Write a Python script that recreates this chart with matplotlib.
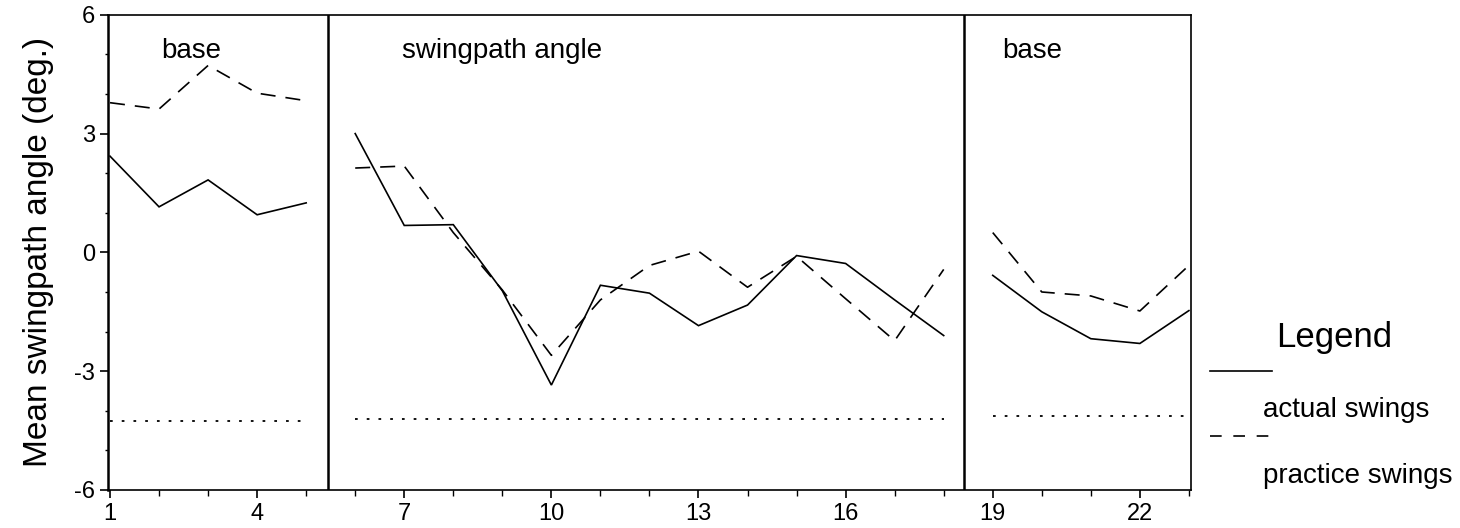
import numpy as np
import matplotlib
matplotlib.use("Agg")
import matplotlib.pyplot as plt
from matplotlib.lines import Line2D

plt.rcParams['font.family'] = ['Liberation Sans', 'DejaVu Sans']
plt.rcParams['axes.unicode_minus'] = False

# trial numbers per phase
base1_x = [1, 2, 3, 4, 5]
swing_x = [6, 7, 8, 9, 10, 11, 12, 13, 14, 15, 16, 17, 18]
base2_x = [19, 20, 21, 22, 23]

# mean swingpath angle (deg.)
actual_base1 = [2.43, 1.15, 1.83, 0.95, 1.25]
practice_base1 = [3.78, 3.62, 4.72, 4.02, 3.83]
actual_swing = [3.0, 0.68, 0.7, -0.97, -3.35, -0.83, -1.03, -1.85, -1.33, -0.08, -0.28, -1.2, -2.1]
practice_swing = [2.13, 2.18, 0.5, -0.95, -2.6, -1.2, -0.33, 0.03, -0.88, -0.1, -1.17, -2.23, -0.43]
actual_base2 = [-0.58, -1.5, -2.18, -2.3, -1.47]
practice_base2 = [0.5, -1.0, -1.1, -1.48, -0.33]

# dotted reference level in each phase
ref_level = [-4.27, -4.21, -4.14]

phase_bounds = [5.45, 18.42]
phase_labels = ["base", "swingpath angle", "base"]
phase_label_x = [2.05, 6.95, 19.2]

xticks = [1, 4, 7, 10, 13, 16, 19, 22]
yticks = [-6, -3, 0, 3, 6]

fig = plt.figure(figsize=(14.6, 5.28), dpi=100)
ax = fig.add_axes([0.074, 0.072, 0.742, 0.9])

phases = [(base1_x, actual_base1, practice_base1),
          (swing_x, actual_swing, practice_swing),
          (base2_x, actual_base2, practice_base2)]
for (xs, act, prac), lvl in zip(phases, ref_level):
    ax.plot(xs, act, color='black', lw=1.2, solid_joinstyle='miter')
    ax.plot(xs, prac, color='black', lw=1.2, linestyle=(0, (9, 6)))
    ax.plot([xs[0], xs[-1]], [lvl, lvl], color='black', lw=1.3, linestyle=(0, (1.5, 5)))

for b in phase_bounds:
    ax.axvline(b, color='black', lw=1.8)

for txt, tx in zip(phase_labels, phase_label_x):
    ax.text(tx, 4.9, txt, fontsize=20, ha='left', va='baseline')

ax.set_xlim(0.96, 23.05)
ax.set_ylim(-6, 6)
ax.set_xticks(xticks)
ax.set_yticks(yticks)
ax.set_xticks(np.arange(1, 24), minor=True)
ax.set_yticks(np.arange(-6, 7), minor=True)
ax.tick_params(axis='both', which='major', direction='out', length=6, width=1.2, labelsize=17)
ax.tick_params(axis='both', which='minor', direction='out', length=4, width=1.0)
ax.tick_params(axis='y', which='minor', length=2)
ax.set_ylabel("Mean swingpath angle (deg.)", fontsize=24, labelpad=14)
for s in ax.spines.values():
    s.set_linewidth(1.2)
ax.spines['left'].set_linewidth(1.8)

# legend drawn beside the axes
fig.text(0.874, 0.343, "Legend", fontsize=25, ha='left', va='baseline')
fig.add_artist(Line2D([0.829, 0.871], [0.297, 0.297], color='black', lw=1.2))
fig.text(0.865, 0.210, "actual swings", fontsize=20, ha='left', va='baseline')
fig.add_artist(Line2D([0.829, 0.871], [0.174, 0.174], color='black', lw=1.2,
                      linestyle=(0, (7, 7))))
fig.text(0.865, 0.085, "practice swings", fontsize=20, ha='left', va='baseline')

fig.savefig("out.png", dpi=100)
